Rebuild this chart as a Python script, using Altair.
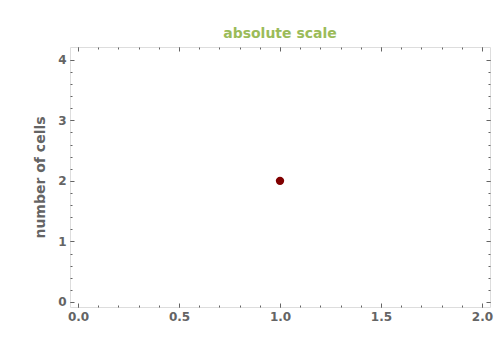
import altair as alt
import pandas as pd

# data
x_vals = [1.0]
y_vals = [2]

x_major = [0.0, 0.5, 1.0, 1.5, 2.0]
x_minor = [0.0, 0.1, 0.2, 0.3, 0.4, 0.5, 0.6, 0.7, 0.8, 0.9, 1.0,
           1.1, 1.2, 1.3, 1.4, 1.5, 1.6, 1.7, 1.8, 1.9, 2.0]
y_major = [0, 1, 2, 3, 4]
y_minor = [0, 0.2, 0.4, 0.6, 0.8, 1.0, 1.2, 1.4, 1.6, 1.8, 2.0,
           2.2, 2.4, 2.6, 2.8, 3.0, 3.2, 3.4, 3.6, 3.8, 4.0]

df = pd.DataFrame({"x": x_vals, "y": y_vals})

GRAY = "#646464"
FONT = "DejaVu Sans"

xscale = alt.Scale(domain=[-0.04, 2.04], nice=False, zero=False)
yscale = alt.Scale(domain=[-0.083, 4.21], nice=False, zero=False)

common = dict(domain=False, grid=False, tickColor=GRAY, tickWidth=1,
              labelColor=GRAY, labelFont=FONT, labelFontSize=12,
              labelFontWeight="bold")


def xax(orient, values, size, labels):
    return alt.Axis(orient=orient, values=values, tickSize=size, offset=-size,
                    labels=labels, title=None, labelPadding=3,
                    labelFlush=False, **common)


def yax(orient, values, size, labels, title=None):
    kw = dict(orient=orient, values=values, tickSize=size, offset=-size,
              labels=labels, labelPadding=4, **common)
    if title is not None:
        kw.update(title=title, titleColor=GRAY, titleFont=FONT,
                  titleFontSize=14, titleFontWeight="bold", titlePadding=10)
    else:
        kw.update(title=None)
    if labels:
        kw.update(labelFlush=False, format="d")
    return alt.Axis(**kw)


base = alt.Chart(df)

ghost_bottom_minor = base.mark_circle(opacity=0).encode(
    x=alt.X("x:Q", scale=xscale, axis=xax("bottom", x_minor, 2, False)),
    y=alt.Y("y:Q", scale=yscale, axis=yax("left", y_minor, 2, False)),
)
ghost_top_major = base.mark_circle(opacity=0).encode(
    x=alt.X("x:Q", scale=xscale, axis=xax("top", x_major, 4, False)),
    y=alt.Y("y:Q", scale=yscale, axis=yax("right", y_major, 4, False)),
)
ghost_top_minor = base.mark_circle(opacity=0).encode(
    x=alt.X("x:Q", scale=xscale, axis=xax("top", x_minor, 2, False)),
    y=alt.Y("y:Q", scale=yscale, axis=yax("right", y_minor, 2, False)),
)
points = base.mark_circle(size=70, color="#800000", opacity=1).encode(
    x=alt.X("x:Q", scale=xscale,
            axis=alt.Axis(orient="bottom", values=x_major, tickSize=4, offset=-4,
                          labels=True, title=None, labelPadding=4,
                          labelFlush=False, format=".1f", **common)),
    y=alt.Y("y:Q", scale=yscale,
            axis=yax("left", y_major, 4, True, title="number of cells")),
)

chart = alt.layer(
    ghost_bottom_minor, ghost_top_major, ghost_top_minor, points
).resolve_axis(x="independent", y="independent").properties(
    width=420,
    height=260,
    title=alt.TitleParams("absolute scale", color="#9BBB59", font=FONT,
                          fontSize=14, fontWeight="bold", anchor="middle",
                          offset=6),
    autosize=alt.AutoSizeParams(type="none"),
    padding={"left": 70, "top": 47, "right": 10, "bottom": 43},
).configure_view(stroke=GRAY, strokeWidth=1).configure(background="white")

chart.save("out.html", embed_options={"renderer": "svg", "actions": False})
